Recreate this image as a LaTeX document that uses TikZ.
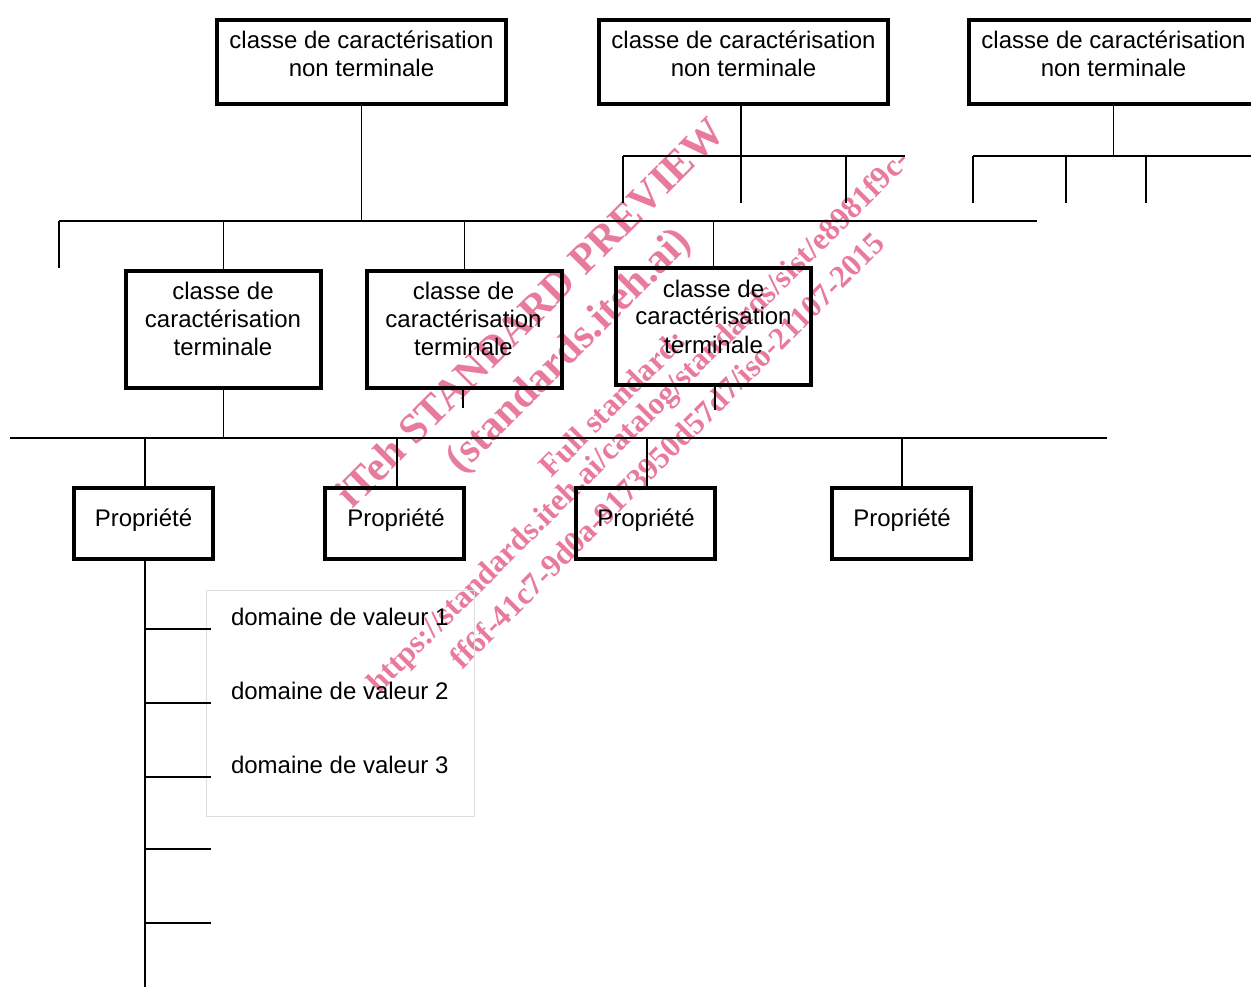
\documentclass[tikz,border=0pt]{standalone}
\usepackage{fontspec}
\setmainfont{Liberation Sans}
\newfontfamily\wmfont{Liberation Serif}
\definecolor{wmpink}{RGB}{232,122,156}
\definecolor{lightframe}{RGB}{222,222,222}
\begin{document}
\begin{tikzpicture}[x=0.75pt,y=-0.75pt,
  every node/.style={inner sep=0pt, outer sep=0pt},
  bigbox/.style={draw, line width=3pt, rectangle, minimum width=216.75pt, minimum height=63pt},
  termbox/.style={draw, line width=3pt, rectangle, minimum width=146.25pt, minimum height=87.75pt},
  propbox/.style={draw, line width=3pt, rectangle, minimum width=104.25pt, minimum height=53.25pt},
  lbl/.style={font=\fontsize{18}{21}\selectfont, align=center, anchor=base},
  vlbl/.style={font=\fontsize{18}{21}\selectfont, anchor=base west},
  conn/.style={line width=1pt},
  wmbig/.style={font=\wmfont\bfseries\fontsize{31.5}{34}\selectfont, text=wmpink, rotate=45, anchor=center},
  wmsmall/.style={font=\wmfont\bfseries\fontsize{23.5}{26}\selectfont, text=wmpink, rotate=45, anchor=center}
]
\useasboundingbox (0,0) rectangle (1251,987);
\clip (0,0) rectangle (1251,987);

% watermark (under the drawing)
\node[wmbig] (w1) at (530,312) {iTeh STANDARD PREVIEW};
\node[wmbig] (w2) at (570,352) {(standards.iteh.ai)};
\node[wmsmall] (w3) at (612,403) {Full standard:};
\node[wmsmall] (w4) at (640,423) {https://standards.iteh.ai/catalog/standards/sist/e8981f9c-};
\node[wmsmall] (w5) at (667,450) {ff6f-41c7-9d0a-9173950d57d7/iso-21107-2015};

% top level boxes
\node[bigbox] (n1) at (361.5,62) {};
\node[bigbox] (n2) at (743.5,62) {};
\node[bigbox, minimum width=217.5pt] (n3) at (1113.5,62) {};
% multi-line labels: anchor=base is the baseline of the last line
\node[lbl] (n1t) at (361.5,77) {classe de caractérisation\\non terminale};
\node[lbl] (n2t) at (743.5,77) {classe de caractérisation\\non terminale};
\node[lbl] (n3t) at (1113.5,77) {classe de caractérisation\\non terminale};

% terminal boxes
\node[termbox] (tA) at (223.5,329.5) {};
\node[termbox] (tB) at (464.5,329.5) {};
\node[termbox] (tC) at (713.5,326.5) {};
\node[lbl] (tAt) at (223,355) {classe de\\caractérisation\\terminale};
\node[lbl] (tBt) at (463.5,355) {classe de\\caractérisation\\terminale};
\node[lbl] (tCt) at (713.5,353) {classe de\\caractérisation\\terminale};

% property boxes
\node[propbox] (p1) at (143.5,523.5) {};
\node[propbox] (p2) at (394.5,523.5) {};
\node[propbox] (p3) at (645,523.5) {};
\node[propbox] (p4) at (901.5,523.5) {};
\node[lbl] (p1t) at (143.5,526) {Propriété};
\node[lbl] (p2t) at (396,526) {Propriété};
\node[lbl] (p3t) at (646,526) {Propriété};
\node[lbl] (p4t) at (902,526) {Propriété};

% value domain frame
\node[draw=lightframe, line width=0.75pt, rectangle, minimum width=201pt, minimum height=169.5pt] (dom) at (340,703) {};
\node[vlbl] (d1) at (231,625) {domaine de valeur 1};
\node[vlbl] (d2) at (231,699) {domaine de valeur 2};
\node[vlbl] (d3) at (231,773) {domaine de valeur 3};

% ---- connectors ----
% level 1 bus
\coordinate (busL) at (59,221);
\coordinate (busR) at (1037,221);
\draw[conn, line width=1.3pt] (busL) -- (busR);
\draw[conn] (n1.south) -- (n1.south |- busL);
\coordinate (dropL) at (59,268);
\draw[conn] (busL) -- (dropL);
\draw[conn] (tA.north |- busL) -- (tA.north);
\draw[conn] (tB.north |- busL) -- (tB.north);
\draw[conn] (tC.north |- busL) -- (tC.north);

% box 2 sub-bus
\coordinate (s2L) at (623,156);
\coordinate (s2R) at (905,156);
\draw[conn] (s2L) -- (s2R);
\coordinate (s2a) at (623,203);
\coordinate (s2b) at (741,203);
\coordinate (s2c) at (846,203);
\draw[conn] (s2L) -- (s2a);
\draw[conn] (s2b |- n2.south) -- (s2b);
\draw[conn] (s2c |- s2L) -- (s2c);

% box 3 sub-bus
\coordinate (s3L) at (973,156);
\coordinate (s3R) at (1251,156);
\draw[conn] (s3L) -- (s3R);
\coordinate (s3a) at (973,203);
\coordinate (s3b) at (1066,203);
\coordinate (s3c) at (1146,203);
\draw[conn] (s3L) -- (s3a);
\draw[conn] (s3b |- s3L) -- (s3b);
\draw[conn] (s3c |- s3L) -- (s3c);
\draw[conn] (n3.south) -- (n3.south |- s3L);

% level 2 bus
\coordinate (bus2L) at (10,438);
\coordinate (bus2R) at (1107,438);
\draw[conn, line width=1.3pt] (bus2L) -- (bus2R);
\draw[conn] (tA.south) -- (tA.south |- bus2L);
\coordinate (tickB) at (463,408);
\coordinate (tickC) at (715,410);
\draw[conn] (tickB |- tB.south) -- (tickB);
\draw[conn] (tickC |- tC.south) -- (tickC);
\coordinate (dp1) at (145,438);
\coordinate (dp2) at (397,438);
\coordinate (dp3) at (647,438);
\coordinate (dp4) at (902,438);
\draw[conn] (dp1) -- (dp1 |- p1.north);
\draw[conn] (dp2) -- (dp2 |- p2.north);
\draw[conn] (dp3) -- (dp3 |- p3.north);
\draw[conn] (dp4) -- (dp4 |- p4.north);

% value spine
\coordinate (vend) at (145,987);
\draw[conn] (vend |- p1.south) -- (vend);
\foreach \yy [count=\i] in {629,703,777,849,923} {
  \coordinate (tk\i) at (211,\yy);
  \draw[conn] (145,\yy) -- (tk\i);
}
\end{tikzpicture}
\end{document}
